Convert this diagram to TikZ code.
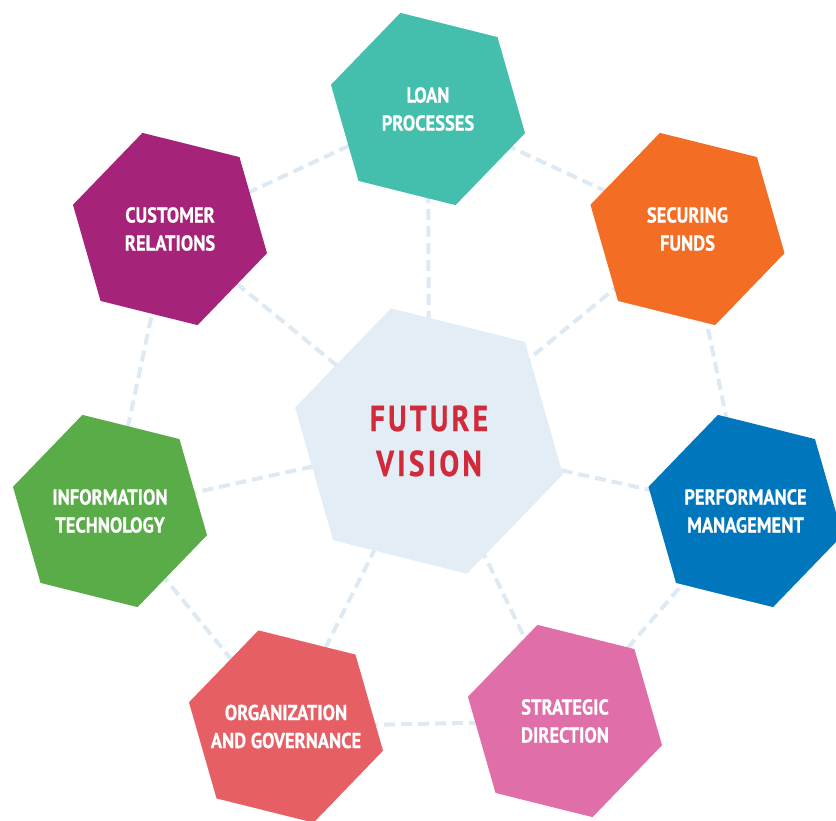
\documentclass[tikz,border=0pt]{standalone}
\usepackage{fontspec}
\newfontfamily\hexfont{PT Sans}[FakeStretch=0.86,FakeBold=0.6]
\newfontfamily\vizfont{PT Sans}[FakeStretch=0.82,LetterSpace=9,FakeBold=0.6]
\usetikzlibrary{shapes.geometric,backgrounds}
\definecolor{cLoan}{HTML}{44BFAE}
\definecolor{cSec}{HTML}{F36D24}
\definecolor{cPerf}{HTML}{0077BD}
\definecolor{cStrat}{HTML}{E06EA9}
\definecolor{cOrg}{HTML}{E65F64}
\definecolor{cIT}{HTML}{59AC47}
\definecolor{cCust}{HTML}{A52378}
\definecolor{cCenter}{HTML}{E2EDF6}
\definecolor{cVision}{HTML}{D12A3B}
\definecolor{cDash}{HTML}{DDE9F3}
\begin{document}
\begin{tikzpicture}[x=1pt,y=-1pt,
  hexa/.style={regular polygon, regular polygon sides=6, shape border rotate=-14,
    minimum size=200pt, inner sep=0pt, outer sep=0pt, fill=#1},
  hextext/.style={text=white, inner sep=0pt,
    font=\hexfont\bfseries\fontsize{21.5}{28}\selectfont, align=center},
  centerhex/.style={regular polygon, regular polygon sides=6, shape border rotate=-14,
    minimum size=276pt, inner sep=0pt, outer sep=0pt, fill=cCenter, text=cVision,
    font=\vizfont\bfseries\fontsize{36}{45}\selectfont, align=center},
  dashline/.style={draw=cDash, line width=4pt, dash pattern=on 11pt off 6pt}]
\clip (0,0) rectangle (836,821);
\node[centerhex] (fv) at (429,441) {FUTURE\\VISION};
\node[hexa=cLoan, label={[hextext]center:{LOAN\\PROCESSES}}] (loan) at (428,109) {};
\node[hexa=cSec, label={[hextext]center:{SECURING\\FUNDS}}] (sec) at (687.5,229) {};
\node[hexa=cPerf, label={[hextext]center:{PERFORMANCE\\MANAGEMENT}}] (perf) at (745.5,511) {};
\node[hexa=cStrat, label={[hextext]center:{STRATEGIC\\DIRECTION}}] (strat) at (565,721) {};
\node[hexa=cOrg, label={[hextext]center:{ORGANIZATION\\AND GOVERNANCE}}] (org) at (286,726.5) {};
\node[hexa=cIT, label={[hextext]center:{INFORMATION\\TECHNOLOGY}}] (it) at (110,511) {};
\node[hexa=cCust, label={[hextext]center:{CUSTOMER\\RELATIONS}}] (cust) at (170,229) {};
\begin{scope}[on background layer]
  \foreach \n in {loan,sec,perf,strat,org,it,cust}
    \draw[dashline] (fv.center) -- (\n.center);
  \draw[dashline] (loan.center) -- (sec.center);
  \draw[dashline] (sec.center) -- (perf.center);
  \draw[dashline] (perf.center) -- (strat.center);
  \draw[dashline] (strat.center) -- (org.center);
  \draw[dashline] (org.center) -- (it.center);
  \draw[dashline] (it.center) -- (cust.center);
  \draw[dashline] (cust.center) -- (loan.center);
\end{scope}
\end{tikzpicture}
\end{document}
